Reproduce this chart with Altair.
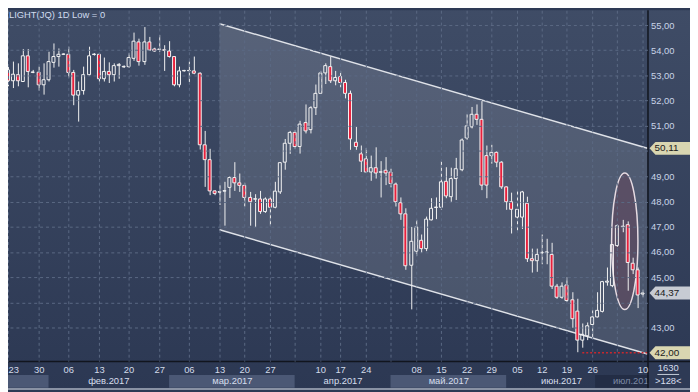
import altair as alt
import pandas as pd

# ---------------- data ----------------
opens = [
    51.40, 53.22, 52.79, 53.03, 52.76, 53.78, 53.12, 53.13, 52.63, 52.83,
    53.52, 53.75, 53.84, 53.84, 53.12, 52.22, 52.40, 53.03, 53.83, 53.84,
    52.87, 53.16, 53.03, 53.39, 53.34, 53.35, 53.68, 54.33, 53.55, 54.33,
    54.05, 54.03, 54.02, 53.97, 53.75, 52.63, 53.18, 53.19, 53.18, 53.09,
    50.25, 49.66, 48.42, 48.37, 48.41, 48.56, 48.95, 48.74, 48.64, 48.16,
    48.09, 48.10, 47.60, 48.10, 47.77, 48.38, 49.56, 50.31, 50.74, 50.18,
    51.13, 50.85, 51.72, 52.29, 53.10, 53.35, 52.79, 52.96, 52.72, 52.29,
    50.35, 49.89, 49.69, 49.17, 49.34, 49.16, 49.24, 49.17, 48.69, 47.95,
    47.51, 45.47, 46.03, 46.46, 46.13, 47.27, 47.76, 47.77, 48.80, 48.19,
    48.91, 49.26, 50.52, 50.96, 51.46, 51.26, 49.82, 49.82, 49.95, 49.56,
    48.58, 47.99, 47.38, 47.38, 47.93, 45.73, 45.65, 45.96, 45.97, 45.90,
    44.64, 44.20, 44.69, 44.10, 43.65, 42.50, 42.67, 43.12, 43.42, 43.64,
    44.80, 44.66, 46.25, 47.00, 47.08, 45.55, 45.29, 44.33]
highs = [
    52.52, 53.43, 53.55, 53.48, 54.05, 54.05, 53.22, 53.35, 53.48, 53.94,
    54.27, 54.07, 53.88, 54.14, 53.22, 52.76, 53.35, 54.14, 53.88, 53.88,
    53.71, 53.52, 53.48, 53.49, 53.40, 53.88, 54.70, 54.46, 54.92, 54.53,
    54.10, 54.60, 54.20, 54.36, 53.76, 53.35, 53.22, 53.55, 53.75, 53.12,
    50.80, 50.09, 48.45, 48.65, 48.78, 49.00, 49.56, 49.11, 48.74, 48.38,
    48.29, 48.42, 48.16, 48.22, 48.78, 49.56, 50.48, 50.80, 50.83, 51.20,
    51.85, 51.78, 52.64, 53.18, 53.48, 53.75, 53.18, 53.18, 52.83, 52.40,
    50.96, 50.22, 50.12, 49.82, 50.15, 49.60, 49.76, 49.30, 48.75, 48.16,
    47.73, 46.99, 47.27, 46.69, 47.40, 48.13, 48.16, 49.60, 49.36, 49.34,
    49.73, 50.50, 51.46, 51.75, 51.85, 52.01, 50.22, 50.25, 49.99, 49.60,
    48.60, 48.35, 48.42, 48.42, 48.19, 46.13, 46.13, 46.69, 46.52, 46.36,
    44.73, 44.79, 44.99, 44.40, 44.14, 43.16, 43.20, 43.68, 44.40, 44.85,
    45.38, 46.30, 47.10, 47.27, 47.21, 45.77, 45.38, 44.50]
lows = [
    51.35, 52.57, 52.50, 52.57, 52.74, 52.53, 53.09, 52.40, 52.24, 52.76,
    53.31, 53.35, 53.81, 52.92, 51.82, 51.17, 52.24, 53.00, 53.79, 52.76,
    52.76, 52.70, 52.76, 52.87, 53.30, 53.31, 53.58, 53.39, 53.42, 53.97,
    53.94, 53.94, 53.18, 53.71, 52.57, 52.53, 53.16, 52.74, 53.05, 50.06,
    48.58, 48.25, 48.25, 47.86, 47.04, 48.14, 48.42, 48.38, 47.80, 47.04,
    46.99, 47.51, 47.55, 47.04, 47.73, 48.30, 49.26, 49.89, 50.09, 49.90,
    50.70, 50.70, 51.43, 52.27, 52.66, 52.70, 52.61, 52.53, 52.09, 50.05,
    50.05, 49.17, 49.13, 48.82, 48.91, 48.16, 48.65, 48.56, 47.80, 47.27,
    45.29, 43.72, 45.84, 45.97, 46.03, 47.25, 47.30, 47.67, 48.13, 47.99,
    48.06, 49.20, 50.45, 50.90, 51.04, 48.45, 48.13, 49.50, 49.36, 48.50,
    47.67, 46.73, 46.82, 46.91, 45.60, 45.18, 45.21, 45.51, 45.51, 44.53,
    44.14, 44.14, 44.01, 42.99, 42.02, 42.20, 42.50, 42.54, 43.40, 43.60,
    44.66, 44.60, 46.20, 46.78, 44.46, 45.12, 43.77, 44.20]
closes = [
    52.48, 52.79, 53.05, 52.79, 53.78, 53.16, 53.14, 52.63, 52.83, 53.55,
    53.75, 53.84, 53.85, 53.12, 52.22, 52.40, 53.03, 53.78, 53.85, 52.87,
    53.16, 53.03, 53.39, 53.44, 53.36, 53.71, 54.36, 53.55, 54.33, 54.01,
    53.97, 54.05, 54.00, 53.75, 52.63, 53.18, 53.20, 53.20, 53.09, 50.25,
    49.66, 48.42, 48.32, 48.39, 48.43, 48.95, 48.74, 48.64, 48.16, 47.99,
    48.11, 47.60, 48.10, 47.77, 48.41, 49.54, 50.31, 50.74, 50.18, 51.07,
    50.80, 51.72, 52.29, 53.10, 53.39, 52.79, 52.92, 52.72, 52.29, 50.48,
    50.18, 49.60, 49.17, 49.34, 49.13, 49.18, 49.13, 48.71, 47.99, 47.51,
    45.45, 46.42, 46.99, 46.13, 47.30, 47.73, 47.78, 48.78, 48.22, 48.91,
    49.30, 50.44, 51.00, 51.46, 51.26, 48.65, 48.65, 49.95, 49.56, 48.58,
    47.99, 47.69, 47.69, 48.38, 45.73, 45.65, 45.90, 45.98, 46.00, 44.64,
    44.20, 44.64, 44.07, 43.35, 42.50, 42.73, 43.07, 43.42, 43.68, 44.82,
    44.84, 46.29, 47.04, 47.02, 45.58, 45.29, 44.29, 44.37]
bar_index = list(range(len(opens)))

# x axis: weekly ticks (bar index) and their day labels
week_ticks = [1, 7, 13, 19, 25, 31, 37, 43, 48, 53, 58, 63, 67, 72, 77,
              82, 87, 92, 97, 102, 107, 112, 117, 122, 127]
week_labels = ["23", "30", "06", "13", "20", "27", "06", "13", "20", "27", "",
               "10", "17", "24", "", "08", "15", "22", "29", "05", "12", "19",
               "26", "", "10"]
price_ticks = [43, 44, 45, 46, 47, 48, 49, 50, 51, 52, 53, 54, 55]

# month row
month_names = ["фев.2017", "мар.2017", "апр.2017", "май.2017", "июн.2017"]
month_centers = [21, 45.5, 67.5, 88.5, 111]
band_start = [1.0, 33, 77]
band_end = [9, 58, 100]
current_month = "июл.2017"
current_month_pos = 121.2
current_box = [117.5, 128.6]

# channel
channel_x = [43.04, 128.0]
channel_upper = [55.05, 50.11]
channel_lower = [46.88, 41.95]

# ellipse highlight (centre bar index, centre price)
ellipse_x = [123.5]
ellipse_y = [46.42]

# price tags on the right scale
tag_prices = [50.11, 44.37, 42.00]
tag_labels = ["50,11", "44,37", "42,00"]
tag_colors = ["#d9d6b1", "#c7cbd3", "#d9d6b1"]

# dotted support level
support_x = [115, 128]
support_price = [42.0]

info_top = "1630"
info_bottom = ">128<"
title_text = "LIGHT(JQ) 1D Low = 0"

# ---------------- frames ----------------
candles = pd.DataFrame({"i": bar_index, "open": opens, "high": highs,
                        "low": lows, "close": closes})
candles["top"] = candles[["open", "close"]].max(axis=1)
candles["bot"] = candles[["open", "close"]].min(axis=1)
candles["dir"] = ["up" if c >= o else "down" for o, c in zip(opens, closes)]

channel = pd.DataFrame({"cx": channel_x, "up": channel_upper, "lo": channel_lower})
bands = pd.DataFrame({"s": band_start, "e": band_end})
months = pd.DataFrame({"name": month_names, "c": month_centers})
cur = pd.DataFrame({"s": [current_box[0]], "e": [current_box[1]],
                    "t": [current_month_pos], "name": [current_month]})
ell = pd.DataFrame({"ex": ellipse_x, "ey": ellipse_y})
tags = pd.DataFrame({"p": tag_prices, "label": tag_labels, "col": tag_colors})
support = pd.DataFrame({"x0": [support_x[0]], "x1": [support_x[1]], "p": support_price})
one = pd.DataFrame({"k": [0]})

# ---------------- scales / axes ----------------
FONT = "Liberation Sans"
xscale = alt.Scale(domain=[1.0, 128.0], nice=False, zero=False, round=True, padding=0)
yscale = alt.Scale(domain=[41.667, 55.588], nice=False, zero=False, padding=0)

xlabel_expr = ("[" + ",".join("'%s'" % s for s in week_labels) + "][indexof(["
               + ",".join(str(t) for t in week_ticks) + "], datum.value)]")
xaxis = alt.Axis(values=week_ticks, labelExpr=xlabel_expr, title=None,
                 grid=True, gridColor="#5b6984", gridDash=[3, 3], gridWidth=1,
                 ticks=False, domain=False, labelPadding=4, labelFont=FONT,
                 labelFontSize=9.5, labelColor="#d2dbea", labelFlush=False,
                 labelOverlap=False, zindex=1,
                 labelAlign={"condition": {"test": "datum.value < 2", "value": "left"},
                             "value": "center"})
yaxis = alt.Axis(orient="right", values=price_ticks, title=None,
                 labelExpr=("datum.value == 50 || datum.value == 44 ? '' : "
                            "replace(format(datum.value, '.2f'), '.', ',')"),
                 grid=True, gridColor="#5b6984", gridDash=[3, 3], gridWidth=1,
                 ticks=False, domain=False, labelPadding=3, labelFont=FONT,
                 labelFontSize=9.5, labelColor="#c9d4e8", labelOverlap=False,
                 zindex=1)


def X(f):
    return alt.X(f, type="quantitative", scale=xscale, axis=xaxis)


def Y(f):
    return alt.Y(f, type="quantitative", scale=yscale, axis=yaxis)


W, H, PR, PB = 647, 355, 43, 29

bg = alt.Chart(one).mark_rect(
    fill=alt.Gradient(gradient="linear", x1=0, x2=0, y1=0, y2=1,
                      stops=[alt.GradientStop(offset=0, color="#3f4c66"),
                             alt.GradientStop(offset=1, color="#2c3853")])
).encode(x=alt.value(0), x2=alt.value(W + PR), y=alt.value(0), y2=alt.value(H + PB))

band_layer = alt.Chart(bands).mark_rect(fill="#4b5875").encode(
    x=X("s"), x2=alt.X2("e"), y=alt.value(H + 14), y2=alt.value(H + 27))
month_text = alt.Chart(months).mark_text(
    font=FONT, fontSize=9.5, color="#d6deed", baseline="middle").encode(
    x=X("c"), y=alt.value(H + 20.5), text="name:N")
cur_box = alt.Chart(cur).mark_rect(fill="#232d45").encode(
    x=X("s"), x2=alt.X2("e"), y=alt.value(H + 14), y2=alt.value(H + 27))
cur_text = alt.Chart(cur).mark_text(
    font=FONT, fontSize=9.5, color="#7d8aa6", baseline="middle", align="left").encode(
    x=X("t"), y=alt.value(H + 20.5), text="name:N")

chan_area = alt.Chart(channel).mark_area(color="#ffffff", opacity=0.13).encode(
    x=X("cx"), y=Y("up"), y2=alt.Y2("lo"))
chan_up = alt.Chart(channel).mark_line(color="#dfe2e8", strokeWidth=1.5).encode(
    x=X("cx"), y=Y("up"))
chan_lo = alt.Chart(channel).mark_line(color="#dfe2e8", strokeWidth=1.5).encode(
    x=X("cx"), y=Y("lo"))

k = 0.5523 * 0.193
ELLIPSE = ("M0,-1 C{k:.4f},-1 0.193,-0.5523 0.193,0 C0.193,0.5523 {k:.4f},1 0,1 "
           "C-{k:.4f},1 -0.193,0.5523 -0.193,0 C-0.193,-0.5523 -{k:.4f},-1 0,-1 Z").format(k=k)
ellipse = alt.Chart(ell).mark_point(
    shape=ELLIPSE, size=138 ** 2, filled=True, fill="#60485e", fillOpacity=0.6,
    stroke="#e6dbe2", strokeWidth=1.5, strokeOpacity=1).encode(
    x=X("ex"), y=Y("ey"))

wick_hi = alt.Chart(candles).mark_rule(color="#f2f2f2", strokeWidth=1, xOffset=0.5,
                                       clip=True).encode(
    x=X("i"), y=Y("high"), y2=alt.Y2("top"))
wick_lo = alt.Chart(candles).mark_rule(color="#f2f2f2", strokeWidth=1, xOffset=0.5,
                                       clip=True).encode(
    x=X("i"), y=Y("bot"), y2=alt.Y2("low"))
bodies = alt.Chart(candles).mark_bar(size=3, stroke="#f4f4f4", strokeWidth=1,
                                     clip=True).encode(
    x=X("i"), y=Y("open"), y2=alt.Y2("close"),
    fill=alt.Fill("dir:N", scale=alt.Scale(domain=["up", "down"],
                                           range=["transparent", "#e8203c"]),
                  legend=None))

support_line = alt.Chart(support).mark_rule(
    stroke="#c8282e", strokeDash=[2, 2], strokeWidth=1.5).encode(
    x=X("x0"), x2=alt.X2("x1"), y=Y("p"))

corner = alt.Chart(one).mark_rect(fill="#2e3a55").encode(
    x=alt.value(W + 1), x2=alt.value(W + PR), y=alt.value(H + 1), y2=alt.value(H + PB))
vline = alt.Chart(one).mark_rule(color="#11151e", strokeWidth=1.5).encode(
    x=alt.value(W + 0.5), y=alt.value(0), y2=alt.value(H + PB))
hline = alt.Chart(one).mark_rule(color="#11151e", strokeWidth=1.5).encode(
    y=alt.value(H + 0.5), x=alt.value(0), x2=alt.value(W + PR))
bottom_strip = alt.Chart(one).mark_rect(fill="#a9b1bf").encode(
    x=alt.value(0), x2=alt.value(W + PR), y=alt.value(H + PB - 1.5), y2=alt.value(H + PB))

info1 = alt.Chart(one).mark_text(font=FONT, fontSize=9.5, color="#d6deed",
                                 baseline="middle").encode(
    x=alt.value(W + 21), y=alt.value(H + 7), text=alt.value(info_top))
info_sep = alt.Chart(one).mark_rule(color="#c4ccda", strokeWidth=1).encode(
    x=alt.value(W + 10), x2=alt.value(W + 32), y=alt.value(H + 13.5))
info2 = alt.Chart(one).mark_text(font=FONT, fontSize=9.5, color="#d6deed",
                                 baseline="middle").encode(
    x=alt.value(W + 21), y=alt.value(H + 20.5), text=alt.value(info_bottom))

TAG = "M-1,0 L-0.707,-0.317 L1,-0.317 L1,0.317 L-0.707,0.317 Z"
tag_shape = alt.Chart(tags).mark_point(shape=TAG, size=41 ** 2, filled=True,
                                       fillOpacity=1, strokeWidth=0).encode(
    x=alt.value(W + 22.5), y=Y("p"), fill=alt.Fill("col:N", scale=None))
tag_text = alt.Chart(tags).mark_text(font=FONT, fontSize=10, color="#1b1b1b",
                                     align="left", baseline="middle").encode(
    x=alt.value(W + 7), y=Y("p"), text="label:N")

title = alt.Chart(one).mark_text(font=FONT, fontSize=9.5, color="#d0dcf0",
                                 align="left", baseline="middle").encode(
    x=alt.value(1), y=alt.value(4.5), text=alt.value(title_text))

chart = alt.layer(
    bg, band_layer, month_text, cur_box, cur_text,
    chan_area, chan_up, chan_lo, ellipse,
    wick_hi, wick_lo, bodies, support_line,
    corner, vline, hline, bottom_strip, info1, info_sep, info2,
    tag_shape, tag_text, title
).properties(
    width=W, height=H,
    autosize=alt.AutoSizeParams(type="none"),
    padding={"left": 0, "top": 0, "right": PR, "bottom": PB},
    background="#2e3a55",
).configure_view(strokeWidth=0)

chart.save("out.html", embed_options={"renderer": "svg", "actions": False})
